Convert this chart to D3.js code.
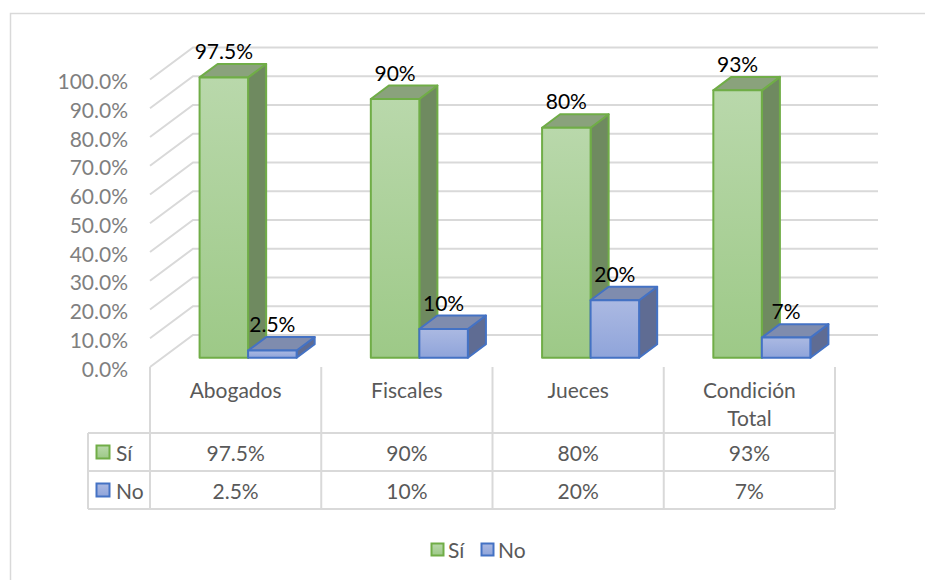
<!DOCTYPE html>
<html>
<head>
<meta charset="utf-8">
<style>
body { margin: 0; background: #fff; }
svg { display: block; font-family: Lato, "Open Sans", sans-serif; }
</style>
</head>
<body>
<div id="chart"></div>
<script src="https://d3js.org/d3.v7.min.js"></script>
<script>
// data
var categories = ["Abogados", "Fiscales", "Jueces", "Condición Total"];
var seriesNames = ["Sí", "No"];
var siValues = [0.975, 0.90, 0.80, 0.93];
var noValues = [0.025, 0.10, 0.20, 0.07];
var siLabels = ["97.5%", "90%", "80%", "93%"];
var noLabels = ["2.5%", "10%", "20%", "7%"];

var width = 925, height = 580;
var fontSize = "21px";

// 3d look: everything is drawn on the front plane, then pushed back by depth d (0 front .. 1 back)
var depthX = 43, depthY = -32;
var barFront = 0.29, barBack = 0.71;

var svg = d3.select("#chart").append("svg")
    .attr("width", width)
    .attr("height", height);

// outer chart border (only left and top visible)
svg.append("rect")
    .attr("x", 10.5).attr("y", 13.5)
    .attr("width", 1000).attr("height", 1000)
    .attr("fill", "none").attr("stroke", "#d9d9d9").attr("stroke-width", 1.5);

var x = d3.scaleBand().domain(categories).range([150, 835]);
var xs = d3.scaleBand().domain(seriesNames).range([0, x.bandwidth()]).paddingOuter(0.765);
var y = d3.scaleLinear().domain([0, 1]).range([367, 79.5]);

var values = { "Sí": siValues, "No": noValues };
var labels = { "Sí": siLabels, "No": noLabels };
var style = {
  "Sí": { top: "#b9d8ab", bottom: "#9dc987", roof: "#8aa27c", side: "#6f8a60", stroke: "#70ad47" },
  "No": { top: "#abb9e2", bottom: "#8fa4da", roof: "#7f8cae", side: "#5f6c93", stroke: "#4472c4" }
};

function pt(px, py, d) { return [px + depthX * d, py + depthY * d]; }

// gradients for the front faces
var defs = svg.append("defs");
seriesNames.forEach(function(s, i) {
  var g = defs.append("linearGradient").attr("id", "grad" + i)
      .attr("x1", 0).attr("y1", 0).attr("x2", 0).attr("y2", 1);
  g.append("stop").attr("offset", "0%").attr("stop-color", style[s].top);
  g.append("stop").attr("offset", "100%").attr("stop-color", style[s].bottom);
});

// gridlines: side wall diagonals + back wall
var ticks = y.ticks(10);
var grid = svg.append("g").attr("stroke", "#d9d9d9").attr("stroke-width", 2).attr("fill", "none");
ticks.forEach(function(t) {
  var a = pt(150, y(t), 0), b = pt(150, y(t), 1), c = pt(835, y(t), 1);
  grid.append("path").attr("d", d3.line()([a, b, c]));
});

// y axis labels
svg.append("g")
  .selectAll("text")
  .data(ticks)
  .enter()
  .append("text")
    .attr("x", 128)
    .attr("y", function(d) { return y(d) + 1; })
    .attr("text-anchor", "end")
    .attr("dominant-baseline", "central")
    .attr("fill", "#7f7f7f")
    .style("font-size", fontSize)
    .text(d3.format(".1%"));

// bars
var bars = svg.append("g");
categories.forEach(function(cat, ci) {
  seriesNames.forEach(function(s, si) {
    var v = values[s][ci];
    var x0 = x(cat) + xs(s), x1 = x0 + xs.bandwidth();
    var yb = y(0), yt = y(v);
    var st = style[s];
    var g = bars.append("g").attr("stroke", st.stroke).attr("stroke-width", 2).attr("stroke-linejoin", "round");
    var line = d3.line();
    // right side
    g.append("path").attr("fill", st.side)
      .attr("d", line([pt(x1, yt, barFront), pt(x1, yt, barBack), pt(x1, yb, barBack), pt(x1, yb, barFront)]) + "Z");
    // top
    g.append("path").attr("fill", st.roof)
      .attr("d", line([pt(x0, yt, barFront), pt(x0, yt, barBack), pt(x1, yt, barBack), pt(x1, yt, barFront)]) + "Z");
    // front
    var f0 = pt(x0, yt, barFront), f1 = pt(x1, yb, barFront);
    g.append("rect").attr("fill", "url(#grad" + si + ")")
      .attr("x", f0[0]).attr("y", f0[1])
      .attr("width", f1[0] - f0[0]).attr("height", f1[1] - f0[1]);
    // value label
    var back = pt((x0 + x1) / 2, yt, barBack);
    svg.append("text")
      .attr("x", (f0[0] + f1[0]) / 2)
      .attr("y", back[1] - 5)
      .attr("text-anchor", "middle")
      .attr("fill", "#000")
      .style("font-size", fontSize)
      .text(labels[s][ci]);
  });
});

// data table
var table = svg.append("g").attr("stroke", "#d9d9d9").attr("stroke-width", 2);
x.domain().concat([null]).forEach(function(c) {
  var xx = c === null ? 835 : x(c);
  table.append("line").attr("x1", xx).attr("x2", xx).attr("y1", 367).attr("y2", 509);
});
table.append("line").attr("x1", 88).attr("x2", 88).attr("y1", 433).attr("y2", 509);
[433, 471, 509].forEach(function(yy) {
  table.append("line").attr("x1", 88).attr("x2", 835).attr("y1", yy).attr("y2", yy);
});

// category header
categories.forEach(function(cat) {
  var lines = cat.split(" ");
  var t = svg.append("text")
    .attr("text-anchor", "middle")
    .attr("fill", "#595959")
    .style("font-size", fontSize);
  lines.forEach(function(l, i) {
    t.append("tspan")
      .attr("x", x(cat) + x.bandwidth() / 2)
      .attr("y", 398 + i * 28)
      .text(l);
  });
});

// value rows
var rowY = [452, 490];
seriesNames.forEach(function(s, si) {
  svg.append("rect")
    .attr("x", 96.5).attr("y", rowY[si] - 6.5).attr("width", 13).attr("height", 13)
    .attr("fill", "url(#grad" + si + ")").attr("stroke", style[s].stroke).attr("stroke-width", 2);
  svg.append("text")
    .attr("x", 116).attr("y", rowY[si]).attr("dominant-baseline", "central")
    .attr("fill", "#595959").style("font-size", fontSize).text(s);
  categories.forEach(function(cat, ci) {
    svg.append("text")
      .attr("x", x(cat) + x.bandwidth() / 2).attr("y", rowY[si])
      .attr("text-anchor", "middle").attr("dominant-baseline", "central")
      .attr("fill", "#595959").style("font-size", fontSize)
      .text(labels[s][ci]);
  });
});

// legend
var legendX = [431, 481];
seriesNames.forEach(function(s, si) {
  svg.append("rect")
    .attr("x", legendX[si] + 0.5).attr("y", 543.5).attr("width", 12).attr("height", 12)
    .attr("fill", "url(#grad" + si + ")").attr("stroke", style[s].stroke).attr("stroke-width", 2);
  svg.append("text")
    .attr("x", legendX[si] + 17).attr("y", 549.5).attr("dominant-baseline", "central")
    .attr("fill", "#595959").style("font-size", fontSize).text(s);
});
</script>
</body>
</html>
